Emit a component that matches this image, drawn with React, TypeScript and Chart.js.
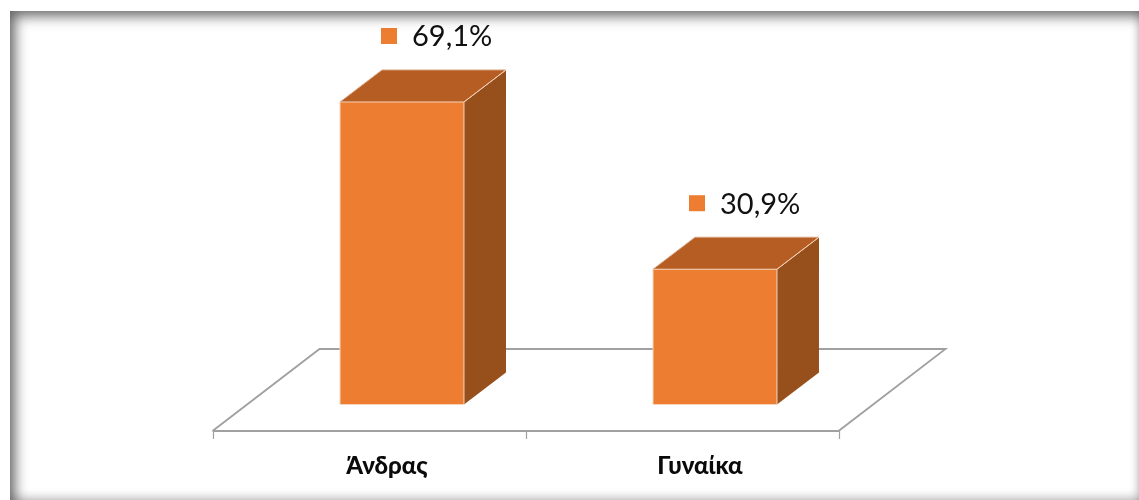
import React, { useEffect, useRef } from "react";
import { Chart, registerables } from "chart.js";

Chart.register(...registerables);

const categories = ["Άνδρας", "Γυναίκα"];
const shares = [69.1, 30.9];
const shareLabels = ["69,1%", "30,9%"];

const FRONT = "#ED7D31";
const TOP = "#B55D22";
const SIDE = "#974F1C";
const EDGE = "#F6D3BB";
const AXIS = "#A0A0A0";

// Receding direction of the 3D box and of the floor plane.
const BOX_DX = 42;
const BOX_DY = 32;
const FLOOR_DX = 107;
const FLOOR_DY = 82;
const FRONT_DX = 33;
const FRONT_DY = 26.5;

const poly = (ctx: CanvasRenderingContext2D, pts: number[][], fill: string | null, stroke: string | null, lw = 1) => {
  ctx.beginPath();
  pts.forEach(([x, y], i) => (i ? ctx.lineTo(x, y) : ctx.moveTo(x, y)));
  if (fill) {
    ctx.closePath();
    ctx.fillStyle = fill;
    ctx.fill();
  }
  if (stroke) {
    ctx.strokeStyle = stroke;
    ctx.lineWidth = lw;
    ctx.stroke();
  }
};

const floorPlugin = {
  id: "floor",
  beforeDatasetsDraw(chart: any) {
    const { ctx, chartArea, scales } = chart;
    const base = scales.y.getPixelForValue(0);
    const left = chartArea.left - FRONT_DX;
    const right = chartArea.right - FRONT_DX;
    const front = base + FRONT_DY;
    const back = front - FLOOR_DY;
    ctx.save();
    poly(ctx, [[left, front], [left + FLOOR_DX, back], [right + FLOOR_DX, back], [right, front], [left, front]], null, AXIS, 1.8);
    const step = (right - left) / categories.length;
    for (let i = 0; i <= categories.length; i++) {
      const x = Math.round(left + i * step) + 0.5;
      poly(ctx, [[x, front], [x, front + 8]], null, AXIS, 1.2);
    }
    ctx.restore();
  },
};

const boxPlugin = {
  id: "box",
  afterDatasetsDraw(chart: any) {
    const { ctx } = chart;
    const bars = chart.getDatasetMeta(0).data;
    const keyShift = [0, -5];
    ctx.save();
    bars.forEach((bar: any, i: number) => {
      const half = bar.width / 2;
      const l = bar.x - half;
      const r = bar.x + half;
      const t = bar.y;
      const b = bar.base;
      poly(ctx, [[r, t], [r + BOX_DX, t - BOX_DY], [r + BOX_DX, b - BOX_DY], [r, b]], SIDE, null);
      poly(ctx, [[l, t], [l + BOX_DX, t - BOX_DY], [r + BOX_DX, t - BOX_DY], [r, t]], TOP, null);
      poly(ctx, [[l, t], [l, b], [r, b], [r, t], [l, t]], null, EDGE, 1);
      poly(ctx, [[l, t], [l + BOX_DX, t - BOX_DY], [r + BOX_DX, t - BOX_DY], [r, t]], null, "#D9A582", 1);
      poly(ctx, [[r, t], [r + BOX_DX, t - BOX_DY]], null, "#F6D3BB", 1);
      // Value label with its small colour key, set above the box.
      const cy = t - 66;
      ctx.fillStyle = FRONT;
      ctx.fillRect(bar.x - 21 + keyShift[i], cy - 8, 16, 16);
      ctx.fillStyle = "#111111";
      ctx.font = '400 29px Lato, sans-serif';
      ctx.textAlign = "left";
      ctx.textBaseline = "middle";
      ctx.fillText(shareLabels[i], bar.x + 10 + keyShift[i], cy + 1);
    });
    ctx.restore();
  },
};

export default function App() {
  const ref = useRef<HTMLCanvasElement>(null);
  useEffect(() => {
    document.body.style.margin = "0";
    const chart = new Chart(ref.current!, {
      type: "bar",
      data: {
        labels: categories,
        datasets: [{ data: shares, backgroundColor: FRONT, borderWidth: 0, barPercentage: 1, categoryPercentage: 0.396 }],
      },
      options: {
        responsive: false,
        animation: false,
        layout: { padding: { left: 245.5, right: 267.5, top: 4, bottom: 0 } },
        plugins: { legend: { display: false }, tooltip: { enabled: false } },
        scales: {
          x: {
            grid: { display: false },
            border: { display: false },
            afterFit: (scale: any) => {
              scale.height = 95.5;
            },
            ticks: {
              color: "#0A0A0A",
              padding: 39,
              labelOffset: -15,
              font: { family: 'Lato, "Open Sans", sans-serif', size: 24, weight: "900" },
            },
          },
          y: { display: false, min: 0, max: 91.48 },
        },
      },
      plugins: [floorPlugin, boxPlugin],
    });
    return () => chart.destroy();
  }, []);
  return (
    <div style={{ position: "relative", width: 1139, height: 500, background: "#fff", overflow: "hidden" }}>
      <canvas ref={ref} width={1139} height={500} style={{ position: "absolute", left: 0, top: 0 }} />
      <div
        style={{
          position: "absolute",
          left: 10,
          top: 11,
          width: 1129,
          height: 489,
          boxShadow: "inset 5px 5px 13px rgba(0,0,0,0.6), inset -2px -5px 8px rgba(0,0,0,0.1)",
          pointerEvents: "none",
        }}
      />
    </div>
  );
}
